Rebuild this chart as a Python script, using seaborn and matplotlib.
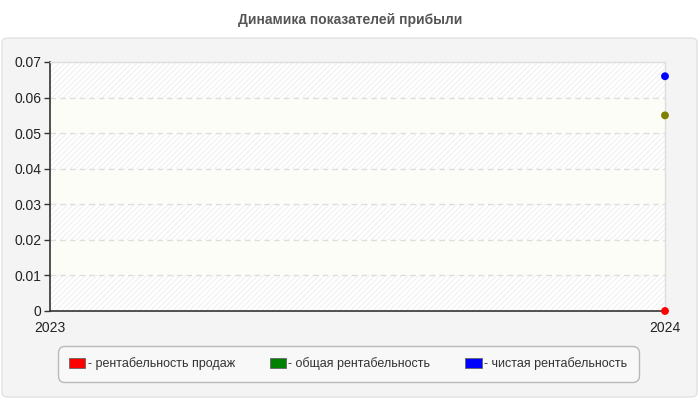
import matplotlib
matplotlib.use("Agg")
import matplotlib.pyplot as plt
import matplotlib.patches as mpatches
import seaborn as sns
import pandas as pd
import numpy as np

years = [2023, 2024]
series_names = ["рентабельность продаж", "общая рентабельность", "чистая рентабельность"]
sales_margin = [np.nan, 0.0]
total_margin = [np.nan, 0.055]
net_margin = [np.nan, 0.066]
legend_colors = ["#ff0000", "#008000", "#0000ff"]
marker_colors = ["#ff0000", "#808000", "#0000ff"]
y_ticks = [0, 0.01, 0.02, 0.03, 0.04, 0.05, 0.06, 0.07]
y_tick_labels = ["0", "0.01", "0.02", "0.03", "0.04", "0.05", "0.06", "0.07"]
title = "Динамика показателей прибыли"

df = pd.DataFrame({
    "year": years * 3,
    "value": sales_margin + total_margin + net_margin,
    "series": [series_names[0]] * 2 + [series_names[1]] * 2 + [series_names[2]] * 2,
})

sns.set_theme(style="white")
plt.rcParams["font.family"] = ["Liberation Sans", "DejaVu Sans"]
plt.rcParams["hatch.linewidth"] = 0.8

fig = plt.figure(figsize=(7, 4), dpi=100)
fig.patch.set_facecolor("white")

# outer grey panel
panel = mpatches.FancyBboxPatch((2 / 700, 3 / 400), 695 / 700, 359 / 400,
                                boxstyle="round,pad=0,rounding_size=0.01",
                                transform=fig.transFigure, facecolor="#f4f4f4",
                                edgecolor="#e2e2e2", linewidth=1, zorder=-10)
fig.patches.append(panel)

fig.text(0.5, 1 - 20 / 400, title, ha="center", va="center", fontsize=10,
         fontweight="bold", color="#555555")

ax = fig.add_axes([50 / 700, 1 - 311 / 400, 615 / 700, 249 / 400])
ax.set_zorder(1)
ax.set_facecolor("white")

# alternating bands
for i in range(7):
    lo, hi = y_ticks[i], y_ticks[i + 1]
    if i % 2 == 0:
        ax.axhspan(lo, hi, facecolor="white", edgecolor="#f0f0f0", hatch="//////", linewidth=0, zorder=0)
    else:
        ax.axhspan(lo, hi, facecolor="#fdfdf8", edgecolor="none", linewidth=0, zorder=0)

for t in y_ticks[1:-1]:
    ax.axhline(t, color="#dddddd", linestyle=(0, (4, 3)), linewidth=1, zorder=1)

sns.scatterplot(data=df, x="year", y="value", hue="series", palette=dict(zip(series_names, marker_colors)),
                s=32, edgecolor="none", legend=False, ax=ax, zorder=5, clip_on=False)

ax.set_xlim(2023, 2024)
ax.set_ylim(0, 0.07)
ax.set_xticks(years)
ax.set_xticklabels([str(y) for y in years], fontsize=10, color="#222222")
ax.set_yticks(y_ticks)
ax.set_yticklabels(y_tick_labels, fontsize=10, color="#222222")
ax.set_xlabel("")
ax.set_ylabel("")
ax.tick_params(axis="y", which="both", left=True, length=4, width=1, color="#333333", pad=2)
ax.tick_params(axis="x", which="both", bottom=False, pad=1)
for s in ["top", "right"]:
    ax.spines[s].set_color("#dddddd")
    ax.spines[s].set_linewidth(1)
for s in ["left", "bottom"]:
    ax.spines[s].set_color("#333333")
    ax.spines[s].set_linewidth(1.2)

handles = [mpatches.Patch(facecolor=c, edgecolor="#666666", linewidth=0.6) for c in legend_colors]
leg = fig.legend(handles, ["- " + n for n in series_names], loc="center",
                 bbox_to_anchor=(348 / 700, 1 - 364 / 400), ncol=3, frameon=True, fancybox=True,
                 fontsize=9, handlelength=1.3, handleheight=0.8, handletextpad=0.2,
                 columnspacing=2.8, borderpad=0.9, labelcolor="#333333")
frame = leg.get_frame()
frame.set_edgecolor("#aaaaaa")
frame.set_facecolor("#fafafa")
frame.set_linewidth(1)
frame.set_boxstyle("round,pad=0,rounding_size=0.5")

fig.savefig("out.png", dpi=100, facecolor=fig.get_facecolor())
